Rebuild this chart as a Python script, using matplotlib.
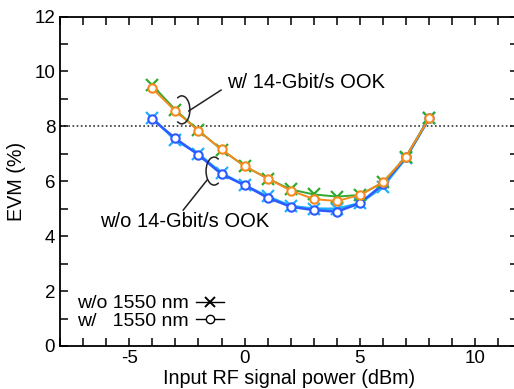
import matplotlib
matplotlib.use("Agg")
import matplotlib.pyplot as plt
from matplotlib.lines import Line2D
from matplotlib.patches import Arc
from matplotlib.ticker import MultipleLocator

plt.rcParams['font.family'] = ['Liberation Sans', 'DejaVu Sans']
plt.rcParams['axes.unicode_minus'] = False

# Input RF signal power (dBm)
power = [-4, -3, -2, -1, 0, 1, 2, 3, 4, 5, 6, 7, 8]

# EVM (%) with 14-Gbit/s OOK
evm_ook_no1550 = [9.5, 8.6, 7.85, 7.15, 6.55, 6.1, 5.7, 5.52, 5.44, 5.5, 5.96, 6.9, 8.3]
evm_ook_1550 = [9.38, 8.56, 7.84, 7.16, 6.55, 6.1, 5.66, 5.35, 5.28, 5.5, 5.96, 6.9, 8.3]

# EVM (%) without 14-Gbit/s OOK
evm_noook_no1550 = [8.3, 7.5, 7.0, 6.3, 5.85, 5.45, 5.1, 5.0, 5.0, 5.2, 5.8, 6.85, 8.3]
evm_noook_1550 = [8.26, 7.56, 6.96, 6.26, 5.86, 5.4, 5.07, 4.95, 4.89, 5.2, 5.89, 6.87, 8.3]

evm_limit = 8.0

ORANGE = "#F58A1F"
GREEN = "#2FAA2F"
BLUE = "#2E5BFF"
CYAN = "#1EB0FF"

fig = plt.figure(figsize=(5.14, 3.89), dpi=100)
ax = fig.add_axes([60 / 514, 43 / 389, 458 / 514, 329.5 / 389])

ax.axhline(evm_limit, color="#333333", lw=1.2, ls=(0, (1, 1.5)), zorder=1)

ax.plot(power, evm_noook_no1550, color=CYAN, lw=1.8, marker="x", ms=8, mew=1.6, zorder=2)
ax.plot(power, evm_noook_1550, color=BLUE, lw=1.8, marker="o", ms=6, mfc="white",
        mec=BLUE, mew=1.5, zorder=3)
ax.plot(power, evm_ook_no1550, color=GREEN, lw=1.4, marker="x", ms=8, mew=1.6, zorder=4)
ax.plot(power, evm_ook_1550, color=ORANGE, lw=1.4, marker="o", ms=6, mfc="white",
        mec=ORANGE, mew=1.5, zorder=5)

# Group brackets with leader lines
ax.add_patch(Arc((-2.72, 8.6), 0.7, 1.02, theta1=-115, theta2=115, color="#222222", lw=1.1, zorder=6))
ax.plot([-2.42, -1.02], [8.56, 9.32], color="#222222", lw=1.1, zorder=6)
ax.text(-0.78, 9.61, "w/ 14-Gbit/s OOK", fontsize=14.5, va="center", ha="left")

ax.add_patch(Arc((-1.32, 6.37), 0.7, 1.02, theta1=65, theta2=295, color="#222222", lw=1.1, zorder=6))
ax.plot([-1.62, -2.66], [6.05, 4.95], color="#222222", lw=1.1, zorder=6)
ax.text(-6.26, 4.52, "w/o 14-Gbit/s OOK", fontsize=14.5, va="center", ha="left")

handles = [
    Line2D([], [], color="black", lw=1.0, marker="x", ms=7, mew=1.4),
    Line2D([], [], color="black", lw=1.0, marker="o", ms=6, mfc="white", mew=1.0),
]
ax.legend(handles, ["w/o 1550 nm", "w/   1550 nm"], loc="lower left", markerfirst=False,
          frameon=False, fontsize=14, handlelength=1.4, handletextpad=0.4,
          labelspacing=0.0, borderaxespad=0.0, bbox_to_anchor=(0.02, 0.025))

ax.set_xlim(-8, 11.85)
ax.set_ylim(0, 12)
ax.xaxis.set_major_locator(MultipleLocator(5))
ax.xaxis.set_minor_locator(MultipleLocator(1))
ax.yaxis.set_major_locator(MultipleLocator(2))
ax.yaxis.set_minor_locator(MultipleLocator(1))
ax.tick_params(which="both", direction="in", top=True, right=True, length=6, width=1.1,
               labelsize=13.5)
ax.tick_params(axis="x", pad=3)
for s in ax.spines.values():
    s.set_linewidth(1.3)
ax.spines["right"].set_visible(False)

ax.set_xlabel("Input RF signal power (dBm)", fontsize=14.2, labelpad=1)
ax.set_ylabel("EVM (%)", fontsize=14.2, labelpad=6)

fig.savefig("out.png", dpi=100)
